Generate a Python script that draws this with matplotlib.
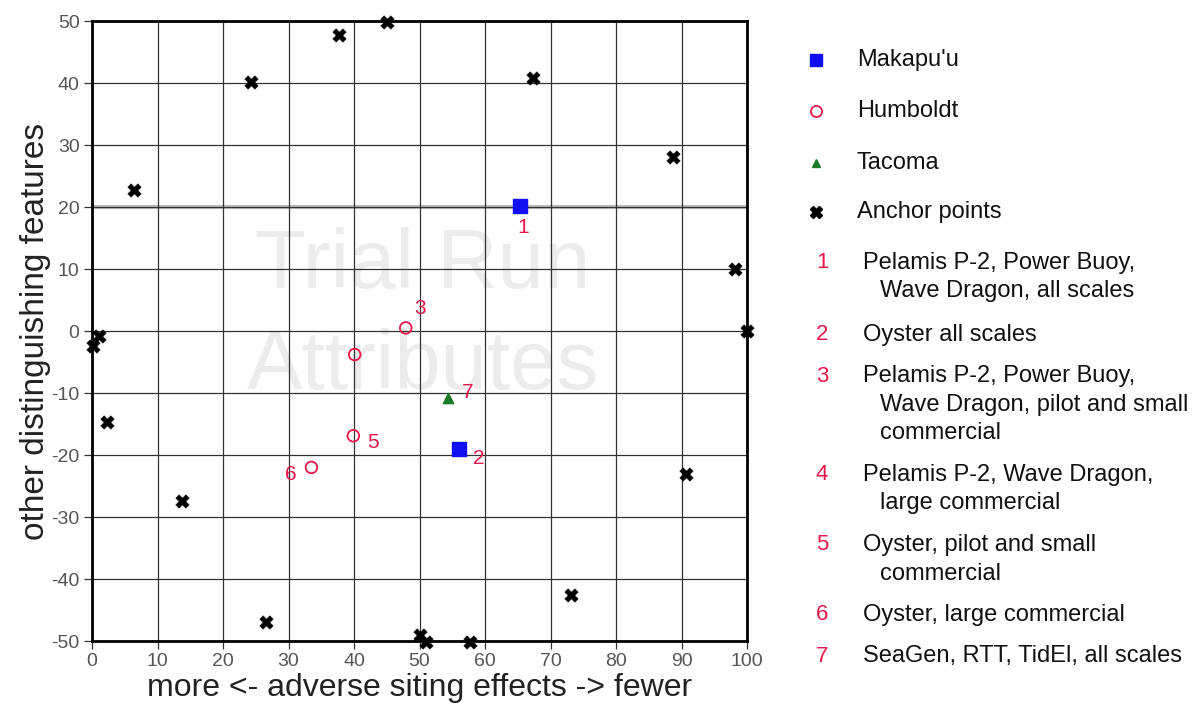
import matplotlib
matplotlib.use("Agg")
import matplotlib.pyplot as plt
from matplotlib.lines import Line2D

plt.rcParams['font.family'] = ['Liberation Sans', 'DejaVu Sans']
plt.rcParams['axes.unicode_minus'] = False

# ---- data ----
anchor_x = [45.0, 37.7, 24.3, 67.3, 6.4, 88.7, 98.2, 100.0, 1.1, 0.2, 2.3, 13.8, 90.7, 73.1, 26.5, 50.0, 51.0, 57.7]
anchor_y = [49.8, 47.8, 40.2, 40.8, 22.7, 28.0, 10.0, 0.0, -0.8, -2.4, -14.6, -27.4, -23.1, -42.6, -46.9, -49.0, -50.2, -50.1]

makapuu_x = [65.4, 56.1]
makapuu_y = [20.2, -19.0]
makapuu_labels = ['1', '2']

humboldt_x = [47.9, 40.1, 39.9, 33.5]
humboldt_y = [0.5, -3.8, -16.9, -22.0]
humboldt_labels = ['3', '', '5', '6']

tacoma_x = [54.4]
tacoma_y = [-10.8]
tacoma_labels = ['7']

x_ticks = [0, 10, 20, 30, 40, 50, 60, 70, 80, 90, 100]
y_ticks = [-50, -40, -30, -20, -10, 0, 10, 20, 30, 40, 50]

legend_series = ["Makapu'u", "Humboldt", "Tacoma", "Anchor points"]
legend_numbers = ['1', '2', '3', '4', '5', '6', '7']
legend_notes = [
    ["Pelamis P-2, Power Buoy,", "Wave Dragon, all scales"],
    ["Oyster all scales"],
    ["Pelamis P-2, Power Buoy,", "Wave Dragon, pilot and small", "commercial"],
    ["Pelamis P-2, Wave Dragon,", "large commercial"],
    ["Oyster, pilot and small", "commercial"],
    ["Oyster, large commercial"],
    ["SeaGen, RTT, TidEl, all scales"],
]

# ---- styling ----
W, H = 1195, 710
fig = plt.figure(figsize=(W / 100, H / 100), dpi=100)
fig.patch.set_facecolor('white')
ax = fig.add_axes([92 / W, 1 - 641 / H, (747 - 92) / W, (641 - 21) / H])

RED = '#e8174a'
BLUE = '#1010ee'
GREEN = '#1a7a2a'

ax.set_xlim(0, 100)
ax.set_ylim(-50, 50)
ax.set_xticks(x_ticks)
ax.set_yticks(y_ticks)
ax.grid(True, color='#333333', linewidth=0.9, zorder=0)
ax.axhline(20, color='#bdbdbd', linewidth=3.0, zorder=0.5)
for s in ax.spines.values():
    s.set_linewidth(2.0)
    s.set_color('black')
ax.tick_params(axis='both', direction='out', length=6, width=0.9, color='#333333',
               labelsize=14, labelcolor='#555555')
ax.tick_params(axis='x', pad=3)
ax.tick_params(axis='y', pad=3)

# watermark
ax.text(50.5, 10.5, "Trial Run", fontsize=60, color='#ececec', ha='center', va='center', zorder=1)
ax.text(50.5, -5.8, "Attributes", fontsize=60, color='#ececec', ha='center', va='center', zorder=1)

ax.scatter(anchor_x, anchor_y, marker='X', s=95, color='black', zorder=3, linewidths=0.3, clip_on=False)
ax.scatter(makapuu_x, makapuu_y, marker='s', s=110, color=BLUE, zorder=4)
ax.scatter(humboldt_x, humboldt_y, marker='o', s=70, facecolors='none', edgecolors=RED,
           linewidths=1.3, zorder=4)
ax.scatter(tacoma_x, tacoma_y, marker='^', s=55, color=GREEN, zorder=4)

label_offsets = {'1': (2, -16), '2': (14, -7), '3': (10, 14), '5': (14, -5), '6': (-15, -5), '7': (14, 4)}
for xs, ys, labs in [(makapuu_x, makapuu_y, makapuu_labels),
                     (humboldt_x, humboldt_y, humboldt_labels),
                     (tacoma_x, tacoma_y, tacoma_labels)]:
    for x, y, lab in zip(xs, ys, labs):
        if not lab:
            continue
        dx, dy = label_offsets[lab]
        ax.annotate(lab, (x, y), xytext=(dx, dy), textcoords='offset points',
                    color=RED, fontsize=15, ha='center', va='center', zorder=5)

ax.set_xlabel("more <- adverse siting effects -> fewer", fontsize=23, color='#222222', labelpad=2)
ax.set_ylabel("other distinguishing features", fontsize=24, color='#222222', labelpad=0)

# ---- manual legend (pixel layout) ----
def fx(px):
    return px / W

def fy(py):
    return 1 - py / H

marker_x = 816
legend_marker_rows = [60, 111, 163, 212]
marker_styles = [dict(marker='s', color=BLUE, markersize=8, linestyle='none'),
                 dict(marker='o', markerfacecolor='none', markeredgecolor=RED, markersize=8,
                      markeredgewidth=1.3, linestyle='none'),
                 dict(marker='^', color=GREEN, markersize=6, linestyle='none'),
                 dict(marker='X', color='black', markersize=8, linestyle='none')]
for name, py, st in zip(legend_series, legend_marker_rows, marker_styles):
    fig.add_artist(Line2D([fx(marker_x)], [fy(py)], transform=fig.transFigure, **st))
    fig.text(fx(857), fy(py), name, fontsize=17, color='#111111', va='center', ha='left')

note_rows = [263, 335, 376, 475, 545, 615, 656]
line_gap = 28.5
for num, lines, py in zip(legend_numbers, legend_notes, note_rows):
    fig.text(fx(822), fy(py), num, fontsize=16, color=RED, va='center', ha='center')
    for i, line in enumerate(lines):
        xx = 863 if i == 0 else 880
        fig.text(fx(xx), fy(py + i * line_gap), line, fontsize=17, color='#111111',
                 va='center', ha='left')

fig.savefig('out.png', dpi=100, facecolor='white')
